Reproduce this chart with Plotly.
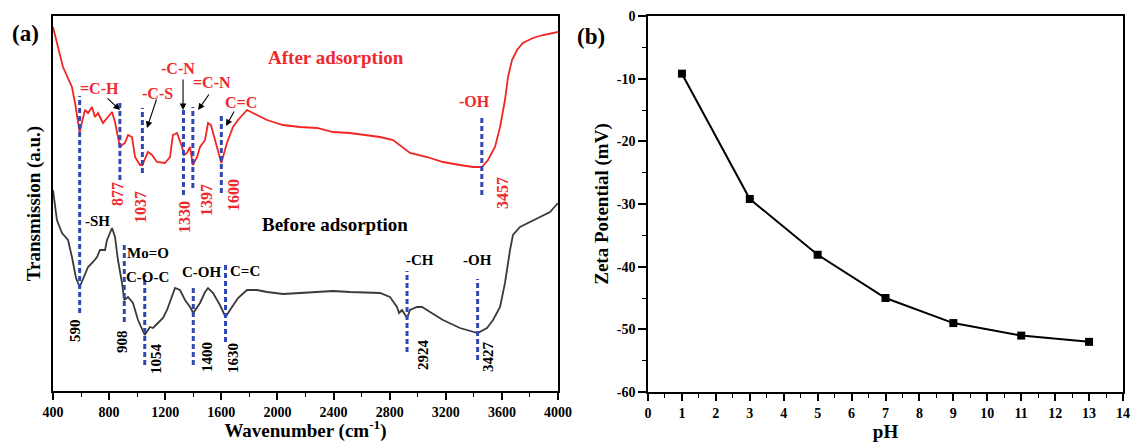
import plotly.graph_objects as go

# ---------------- data: FTIR spectra (panel a) ----------------
after_wn = [400, 436, 471, 535, 557, 590, 628, 650, 678, 699, 721, 756, 792, 821, 842, 877, 892,
            913, 935, 963, 985, 1020, 1037, 1077, 1106, 1141, 1198, 1234, 1255, 1284, 1320, 1334,
            1355, 1377, 1397, 1427, 1448, 1484, 1505, 1526, 1555, 1600, 1640, 1683, 1719, 1783,
            1854, 1926, 2040, 2161, 2282, 2396, 2517, 2638, 2731, 2824, 2945, 3066, 3180, 3301,
            3394, 3458, 3501, 3551, 3587, 3622, 3644, 3672, 3708, 3750, 3822, 3893, 3964, 4000]
after_t = [364, 344, 324, 304, 288, 259, 281, 278, 284, 274, 278, 268, 274, 279, 269, 244, 246,
           248, 256, 254, 234, 226, 226, 239, 236, 229, 228, 234, 256, 258, 244, 236,
           238, 244, 226, 234, 244, 251, 268, 266, 251, 228, 248, 264, 271, 281,
           276, 271, 266, 264, 263, 259, 258, 256, 254, 251, 238, 234, 229, 226,
           224, 224, 231, 244, 264, 291, 314, 331, 341, 348, 353, 356, 358, 359]

before_wn = [400, 428, 464, 507, 535, 564, 590, 628, 650, 685, 714, 735, 771, 785, 821, 842, 863,
             892, 908, 935, 970, 1006, 1054, 1091, 1113, 1148, 1184, 1213, 1248, 1270, 1305, 1341,
             1377, 1400, 1448, 1484, 1505, 1541, 1590, 1630, 1676, 1719, 1783, 1854, 1926, 2040,
             2161, 2282, 2396, 2517, 2731, 2802, 2852, 2867, 2888, 2924, 2945, 2995, 3031, 3088,
             3180, 3301, 3427, 3494, 3537, 3587, 3622, 3658, 3679, 3729, 3800, 3872, 3943, 4000]
before_t = [201, 171, 158, 151, 134, 113, 104, 116, 124, 129, 134, 141, 141, 151, 163, 154, 131,
            108, 91, 94, 88, 71, 56, 64, 63, 68, 73, 81, 94, 103, 101, 91,
            84, 78, 88, 99, 103, 98, 86, 74, 84, 93, 101, 101, 99, 97,
            98, 99, 100, 99, 98, 94, 84, 78, 81, 73, 81, 84, 84, 79,
            71, 63, 58, 63, 71, 84, 108, 141, 156, 164, 169, 174, 179, 188]

# peak assignments
after_peaks = [877, 1037, 1330, 1397, 1600, 3457]
after_peak_labels = ["877", "1037", "1330", "1397", "1600", "3457"]
before_peaks = [590, 908, 1054, 1400, 1630, 2924, 3427]
before_peak_labels = ["590", "908", "1054", "1400", "1630", "2924", "3427"]

after_groups = ["=C-H", "-C-S", "-C-N", "=C-N", "C=C", "-OH"]
before_groups = ["-SH", "Mo=O", "C-O-C", "C-OH", "C=C", "-CH", "-OH"]

# ---------------- data: zeta potential (panel b) ----------------
ph = [1, 3, 5, 7, 9, 11, 13]
zeta = [-9.2, -29.2, -38.1, -45.0, -49.0, -51.0, -52.0]
zeta_ticks = [0, -10, -20, -30, -40, -50, -60]
zeta_ticktext = ["0", "-10", "-20", "-30", "-40", "-50", "-60"]

# ---------------- styling ----------------
FONT = "Liberation Serif"
RED = "#f22424"
LABEL_RED = "#ee2a2e"
DARK = "#3a3a3a"
BLUE = "#3347b0"
FW, FH = 1132, 442


def P(px):   # screen x pixel -> paper fraction
    return px / FW


def Q(py):   # screen y pixel -> paper fraction
    return 1 - py / FH


fig = go.Figure()

fig.add_trace(go.Scatter(x=after_wn, y=after_t, mode="lines",
                         line=dict(color=RED, width=1.8), xaxis="x", yaxis="y",
                         showlegend=False, name="After adsorption"))
fig.add_trace(go.Scatter(x=before_wn, y=before_t, mode="lines",
                         line=dict(color=DARK, width=1.8), xaxis="x", yaxis="y",
                         showlegend=False, name="Before adsorption"))
fig.add_trace(go.Scatter(x=ph, y=zeta, mode="lines+markers",
                         line=dict(color="black", width=2),
                         marker=dict(symbol="square", size=8, color="black"),
                         xaxis="x2", yaxis="y2", showlegend=False, name="Zeta"))

# dashed marker lines (layout extents in a.u.)
after_dash_extent = [(211, 291), (218, 283), (196, 285), (203, 284), (198, 277), (196, 275)]
before_dash_extent = [(78, 295), (69, 148), (26, 116), (26, 105), (49, 128), (39, 120), (31, 112)]
shapes = []
for wn, (y0, y1) in zip(after_peaks + before_peaks, after_dash_extent + before_dash_extent):
    shapes.append(dict(type="line", xref="x", yref="y", x0=wn, x1=wn, y0=y0, y1=y1,
                       line=dict(color=BLUE, width=3, dash="5px,3px")))

ann = []


def txt(x, y, s, color, size=15, angle=0, xref="x", yref="y"):
    ann.append(dict(x=x, y=y, xref=xref, yref=yref, text=s, showarrow=False,
                    textangle=angle, xanchor="center", yanchor="middle",
                    font=dict(family=FONT, size=size, color=color, weight="bold")))


# rotated wavenumber labels
after_num_pos = [(856, 197), (1020, 184), (1334, 174), (1491, 191), (1683, 196), (3601, 198)]
before_num_pos = [(557, 60), (892, 49), (1134, 33), (1498, 34), (1683, 33), (3038, 36), (3501, 34)]
for s, (x, y) in zip(after_peak_labels, after_num_pos):
    txt(x, y, s, LABEL_RED, 16, -90)
for s, (x, y) in zip(before_peak_labels, before_num_pos):
    txt(x, y, s, "black", 15, -90)

# group labels
after_grp_pos = [(735, 303), (1148, 298), (1291, 323), (1533, 309), (1740, 289), (3408, 290)]
before_grp_pos = [(714, 170), (1077, 138), (1077, 114), (1462, 119), (1769, 120), (3016, 131), (3423, 131)]
for s, (x, y) in zip(after_groups, after_grp_pos):
    txt(x, y, s, LABEL_RED, 16)
for s, (x, y) in zip(before_groups, before_grp_pos):
    txt(x, y, s, "black", 15)

txt(2417, 333, "After adsorption", LABEL_RED, 19)
txt(2410, 167, "Before adsorption", "black", 19)

# arrows (tail -> head)
arrows = [((778, 294), (878, 281)), ((1141, 293), (1070, 263)), ((1327, 313), (1327, 281)),
          ((1519, 298), (1434, 281)), ((1697, 281), (1633, 265))]
for (tx, ty), (hx, hy) in arrows:
    ann.append(dict(x=hx, y=hy, ax=tx, ay=ty, xref="x", yref="y", axref="x", ayref="y",
                    text="", showarrow=True, arrowhead=2, arrowsize=1.2, arrowwidth=1.1,
                    arrowcolor="black"))

# panel letters
txt(P(25), Q(34), "(a)", "black", 23, 0, "paper", "paper")
txt(P(591), Q(36), "(b)", "black", 23, 0, "paper", "paper")

tickfont = dict(family=FONT, size=14, color="black", weight="bold")
titlefont = dict(family=FONT, size=19, color="black", weight="bold")
axis_common = dict(showline=True, linecolor="black", linewidth=1.5, mirror=True,
                   showgrid=False, zeroline=False)

fig.update_layout(
    width=FW, height=FH, margin=dict(l=0, r=0, t=0, b=0),
    paper_bgcolor="white", plot_bgcolor="white", template="none",
    shapes=shapes, annotations=ann,
    xaxis=dict(domain=[P(53), P(558)], range=[400, 4000], anchor="y",
               tickmode="linear", tick0=400, dtick=400, ticks="outside", ticklen=7,
               tickwidth=1.5, tickcolor="black",
               minor=dict(ticks="outside", dtick=200, ticklen=4, tickwidth=1.2, tickcolor="black"),
               tickfont=tickfont,
               title=dict(text="Wavenumber (cm<sup>-1</sup>)", font=titlefont, standoff=0),
               **axis_common),
    yaxis=dict(domain=[Q(391), Q(16)], range=[0, 375], anchor="x",
               showticklabels=False, ticks="",
               title=dict(text="Transmission (a.u.)", font=titlefont, standoff=6),
               **axis_common),
    xaxis2=dict(domain=[P(648), P(1123)], range=[0, 14], anchor="y2",
                tickmode="linear", tick0=0, dtick=1, ticks="outside", ticklen=7,
                tickwidth=1.5, tickcolor="black",
                minor=dict(ticks="outside", dtick=0.5, ticklen=4, tickwidth=1.2, tickcolor="black"),
                tickfont=tickfont,
                title=dict(text="pH", font=titlefont, standoff=0),
                **axis_common),
    yaxis2=dict(domain=[Q(392), Q(16)], range=[-60, 0], anchor="x2",
                tickmode="array", tickvals=zeta_ticks, ticktext=zeta_ticktext,
                ticks="outside", ticklen=8, tickwidth=1.5, tickcolor="black",
                minor=dict(ticks="outside", dtick=5, ticklen=4, tickwidth=1.2, tickcolor="black"),
                tickfont=tickfont,
                title=dict(text="Zeta Potential (mV)", font=titlefont, standoff=3),
                **axis_common),
)

fig.write_html("out.html", config={"displayModeBar": False},
               post_script="document.body.style.margin='0';document.body.style.overflow='hidden';")
